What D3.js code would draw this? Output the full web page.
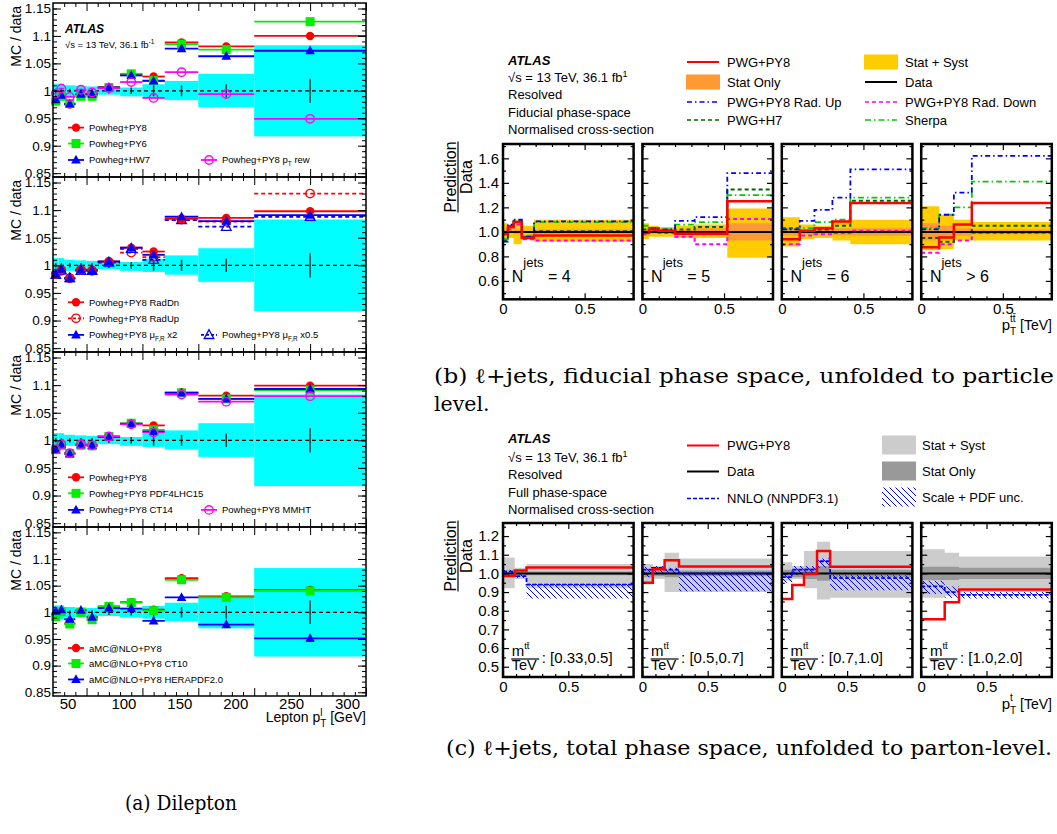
<!DOCTYPE html>
<html><head><meta charset="utf-8">
<script src="https://cdn.jsdelivr.net/npm/d3@7"></script>
<style>body{margin:0;background:#fff}svg{display:block}text{white-space:pre}</style>
</head><body><svg id="c" width="1057" height="834"></svg>
<script>
// ================= DATA =================
// (a) Dilepton – lepton pT, MC / data
const lepEdges   = [20,25,30,40,50,60,80,100,120,150,200,300];
const lepCenters = [22.5,27.5,35,45,55,70,90,110,135,175,250];
const lepBandHi  = [1.013,1.013,1.010,1.009,1.008,1.007,1.006,1.012,1.018,1.031,1.083];
const lepBandLo  = [0.987,0.987,0.990,0.991,0.992,0.993,0.990,0.988,0.983,0.970,0.917];
const lepDataErr = [0.004,0.004,0.004,0.004,0.004,0.005,0.006,0.010,0.010,0.012,0.022];

const a1PY8   = [0.983,0.992,0.975,0.993,0.992,1.007,1.030,1.026,1.088,1.081,1.100];
const a1PY6   = [0.981,0.990,0.977,0.990,0.990,1.006,1.031,1.019,1.085,1.075,1.126];
const a1HW7   = [0.984,0.992,0.976,0.994,0.994,1.006,1.028,1.018,1.077,1.063,1.073];
const a1PtRew = [0.995,1.004,0.989,1.002,0.997,1.005,1.016,0.987,1.034,0.994,0.949];

const a2RadDn = [0.983,0.993,0.976,0.991,0.992,1.007,1.032,1.025,1.084,1.086,1.098];
const a2RadUp = [0.985,0.990,0.977,0.992,0.990,1.006,1.023,1.015,1.083,1.079,1.130];
const a2MuX2  = [0.984,0.993,0.976,0.992,0.991,1.007,1.032,1.019,1.088,1.080,1.091];
const a2MuX05 = [0.983,0.991,0.977,0.990,0.990,1.005,1.030,1.010,1.082,1.070,1.088];

const a3PY8     = [0.983,0.992,0.976,0.992,0.991,1.007,1.030,1.027,1.087,1.081,1.099];
const a3PDF4LHC = [0.983,0.991,0.976,0.991,0.990,1.007,1.031,1.019,1.086,1.075,1.091];
const a3CT14    = [0.983,0.992,0.976,0.992,0.991,1.006,1.030,1.016,1.086,1.075,1.093];
const a3MMHT    = [0.984,0.993,0.977,0.993,0.991,1.007,1.029,1.014,1.083,1.070,1.080];

const a4aMC  = [0.993,1.002,0.979,1.000,0.987,1.011,1.019,1.005,1.064,1.030,1.042];
const a4CT10 = [0.992,1.001,0.978,1.000,0.986,1.011,1.018,1.003,1.061,1.028,1.040];
const a4HERA = [1.002,1.005,0.987,1.004,0.991,1.008,1.007,0.984,1.028,0.977,0.951];

const aYTicks  = [0.85,0.9,0.95,1,1.05,1.1,1.15];
const aYLabels = ["0.85","0.9","0.95","1","1.05","1.1","1.15"];
const aXTicks  = [50,100,150,200,250,300];

// (b) l+jets fiducial, pT(tt) in Njets bins, prediction / data
const bNjets = ["= 4","= 5","= 6","> 6"];
const bEdges = [
  [0,0.03,0.065,0.115,0.19,0.8],
  [0,0.04,0.1,0.2,0.32,0.52,0.8],
  [0,0.11,0.2,0.31,0.42,0.8],
  [0,0.11,0.2,0.31,0.8]
];
const bSystHi = [[1.07,1.05,1.10,1.05,1.10],[1.07,1.05,1.04,1.05,1.06,1.19],[1.12,1.06,1.05,1.09,1.10],[1.21,1.14,1.10,1.08]];
const bSystLo = [[0.93,0.95,0.90,0.95,0.92],[0.94,0.96,0.96,0.95,0.95,0.79],[0.88,0.94,0.95,0.93,0.90],[0.85,0.86,0.93,0.93]];
const bStat   = [[0.02,0.01,0.02,0.01,0.02],[0.02,0.015,0.015,0.02,0.03,0.07],[0.03,0.02,0.02,0.03,0.03],[0.07,0.05,0.03,0.02]];
const bPY8    = [[0.98,1.04,1.08,0.95,0.97],[0.99,1.02,1.01,0.985,0.985,1.25],[0.94,1.01,1.03,1.085,1.235],[0.875,0.955,1.06,1.235]];
const bRadUp  = [[0.92,1.06,1.10,0.96,1.085],[1.0,1.03,1.02,1.09,1.12,1.48],[1.02,1.09,1.18,1.28,1.51],[1.02,1.14,1.32,1.62]];
const bH7     = [[0.93,1.05,1.09,0.96,1.005],[1.02,1.03,1.01,1.02,1.04,1.345],[1.03,1.0,1.02,1.05,1.255],[0.95,0.92,1.0,1.05]];
const bSherpa = [[0.94,1.04,1.08,0.97,1.08],[1.05,1.02,1.02,1.06,1.08,1.30],[1.02,1.03,1.08,1.10,1.28],[1.03,1.14,1.20,1.41]];
const bRadDn  = [[1.0,1.02,1.06,0.94,0.93],[0.98,1.01,0.99,0.96,0.90,1.105],[0.90,0.97,0.98,0.99,1.01],[0.83,0.90,0.93,0.99]];
const bYTicks = [0.6,0.8,1.0,1.2,1.4,1.6];
const bXTicks = [0,0.5];

// (c) l+jets full phase space, pT(t) in m(tt) bins, prediction / data
const cRanges = ["[0.33,0.5]","[0.5,0.7]","[0.7,1.0]","[1.0,2.0]"];
const cEdges = [
  [0,0.09,0.18,1.0],
  [0,0.08,0.17,0.28,1.0],
  [0,0.08,0.17,0.27,0.37,1.0],
  [0,0.18,0.29,1.0]
];
const cSystHi = [[1.085,1.03,1.05],[1.05,1.04,1.11,1.08],[1.06,1.04,1.12,1.17,1.12],[1.13,1.11,1.09]];
const cSystLo = [[0.92,0.97,0.92],[0.94,0.97,0.90,0.90],[0.96,0.97,0.92,0.86,0.87],[0.87,0.88,0.90]];
const cStat   = [[0.015,0.01,0.01],[0.02,0.015,0.02,0.015],[0.02,0.02,0.03,0.04,0.02],[0.035,0.035,0.03]];
const cPY8    = [[0.986,1.015,1.032],[0.95,1.022,1.07,1.037],[0.863,0.938,0.997,1.12,1.036],[0.754,0.845,0.914]];
const cNNLO   = [[1.01,0.985,0.94],[1.02,1.03,1.02,1.0],[0.98,1.02,1.02,1.065,0.975],[0.93,0.90,0.885]];
const cNNLOHi = [[1.02,0.995,0.945],[1.035,1.04,1.03,1.0],[1.0,1.04,1.04,1.08,0.99],[0.96,0.93,0.90]];
const cNNLOLo = [[1.0,0.975,0.865],[0.98,1.0,1.0,0.905],[0.95,0.99,1.0,1.03,0.91],[0.89,0.87,0.865]];
const cYTicks = [0.5,0.6,0.7,0.8,0.9,1.0,1.1,1.2];
const cXTicks = [0,0.5];

// ================= DRAWING =================
const SANS = "'Liberation Sans', Arial, Helvetica, sans-serif";
const SERIF = "'DejaVu Serif', serif";
const svg = d3.select("#c").attr("font-family", SANS);
svg.append("rect").attr("width",1057).attr("height",834).attr("fill","#fff");

function rich(parent, x, y, parts, opts = {}) {
  const g = parent.append("g");
  let cx = 0, lastStart = 0;
  parts.forEach(p => {
    const sx = (p.stack ? lastStart : cx) + (p.dx || 0);
    const t = g.append("text").attr("x", sx).attr("y", p.dy || 0)
      .attr("font-size", p.size).attr("fill", "#000").style("white-space", "pre").text(p.t);
    if (p.bold) t.attr("font-weight", "bold");
    if (p.italic) t.attr("font-style", "italic");
    const w = t.node().getComputedTextLength();
    if (!p.stack) lastStart = sx;
    cx = Math.max(cx, sx + w);
  });
  let ox = 0;
  if (opts.anchor === "end") ox = -cx; else if (opts.anchor === "middle") ox = -cx / 2;
  g.attr("transform", `translate(${x},${y})${opts.rotate ? ` rotate(${opts.rotate})` : ""}`);
  g.selectAll("text").attr("x", function () { return +d3.select(this).attr("x") + ox; });
  return g;
}

function axesFor(g, x, y, o) {
  const [x0, x1] = x.range(), [yb, yt] = y.range();
  const mk = (gen, tx, ty, vals, size, fmt, fs) => {
    const a = g.append("g").attr("transform", `translate(${tx},${ty})`)
      .call(gen.tickValues(vals).tickSizeInner(-size).tickSizeOuter(0).tickPadding(o.pad).tickFormat(fmt || (() => "")));
    a.select(".domain").remove();
    a.attr("font-family", SANS).attr("font-size", fs || 12);
    a.selectAll("line").attr("stroke", "#000").attr("stroke-width", o.tw);
    a.selectAll("text").attr("fill", "#000");
    return a;
  };
  mk(d3.axisLeft(y), x0, 0, o.yMinor, o.minor);
  mk(d3.axisRight(y), x1, 0, o.yMinor, o.minor);
  mk(d3.axisTop(x), 0, yt, o.xMinor, o.minor);
  mk(d3.axisBottom(x), 0, yb, o.xMinor, o.minor);
  const yl = mk(d3.axisLeft(y), x0, 0, o.yMajor, o.major, o.yFmt, o.yfs);
  mk(d3.axisRight(y), x1, 0, o.yMajor, o.major);
  mk(d3.axisTop(x), 0, yt, o.xMajor, o.major);
  const xl = mk(d3.axisBottom(x), 0, yb, o.xMajor, o.major, o.xFmt, o.xfs);
  g.append("rect").attr("x", x0).attr("y", yt).attr("width", x1 - x0).attr("height", yb - yt)
    .attr("fill", "none").attr("stroke", "#000").attr("stroke-width", o.fw);
  return { yl, xl };
}

function marker(g, type, x, y, color) {
  if (type === "circle") g.append("circle").attr("cx", x).attr("cy", y).attr("r", 4.2).attr("fill", color);
  else if (type === "ocircle") g.append("circle").attr("cx", x).attr("cy", y).attr("r", 4.2).attr("fill", "none").attr("stroke", color).attr("stroke-width", 1.4);
  else if (type === "square") g.append("rect").attr("x", x - 4.5).attr("y", y - 4.5).attr("width", 9).attr("height", 9).attr("fill", color);
  else if (type === "tri") g.append("path").attr("d", `M${x},${y - 5.2}L${x + 4.8},${y + 3.6}L${x - 4.8},${y + 3.6}Z`).attr("fill", color);
  else if (type === "otri") g.append("path").attr("d", `M${x},${y - 5.2}L${x + 4.8},${y + 3.6}L${x - 4.8},${y + 3.6}Z`).attr("fill", "none").attr("stroke", color).attr("stroke-width", 1.3);
}

// ---------- (a) ----------
const ax = d3.scaleLinear().domain([20, 300]).range([53, 366]);
const aPanels = [
  { top: 3, bot: 177, series: [
    { v: a1PY8, c: "#ff0000", m: "circle", n: "Powheg+PY8", row: 0 },
    { v: a1PY6, c: "#00ee00", m: "square", n: "Powheg+PY6", row: 1 },
    { v: a1HW7, c: "#0000ff", m: "tri", n: "Powheg+HW7", row: 2 },
    { v: a1PtRew, c: "#ff00ff", m: "ocircle", n: ["Powheg+PY8 p", "T", " rew"], col: 2, row: 2 }] },
  { top: 177, bot: 352, series: [
    { v: a2RadUp, c: "#ff0000", m: "ocircle", dash: "4,3", n: "Powheg+PY8 RadUp", row: 1 },
    { v: a2MuX05, c: "#0000ff", m: "otri", dash: "4,3", n: ["Powheg+PY8 μ", "F,R", " x0.5"], col: 2, row: 2 },
    { v: a2RadDn, c: "#ff0000", m: "circle", n: "Powheg+PY8 RadDn", row: 0 },
    { v: a2MuX2, c: "#0000ff", m: "tri", n: ["Powheg+PY8 μ", "F,R", " x2"], row: 2 }] },
  { top: 352, bot: 527, series: [
    { v: a3PY8, c: "#ff0000", m: "circle", n: "Powheg+PY8", row: 0 },
    { v: a3PDF4LHC, c: "#00ee00", m: "square", n: "Powheg+PY8 PDF4LHC15", row: 1 },
    { v: a3CT14, c: "#0000ff", m: "tri", n: "Powheg+PY8 CT14", row: 2 },
    { v: a3MMHT, c: "#ff00ff", m: "ocircle", n: "Powheg+PY8 MMHT", col: 2, row: 2 }] },
  { top: 527, bot: 696, series: [
    { v: a4aMC, c: "#ff0000", m: "circle", n: "aMC@NLO+PY8", row: 0 },
    { v: a4CT10, c: "#00ee00", m: "square", n: "aMC@NLO+PY8 CT10", row: 1 },
    { v: a4HERA, c: "#0000ff", m: "tri", n: "aMC@NLO+PY8 HERAPDF2.0", row: 2 }] }
];
const legRows = [0.933, 0.904, 0.874];
aPanels.forEach((P, pi) => {
  const ay = d3.scaleLinear().domain([0.843, 1.16]).range([P.bot, P.top]);
  const g = svg.append("g");
  lepCenters.forEach((c, i) => {
    g.append("rect").attr("x", ax(lepEdges[i])).attr("width", ax(lepEdges[i + 1]) - ax(lepEdges[i]))
      .attr("y", ay(lepBandHi[i])).attr("height", ay(lepBandLo[i]) - ay(lepBandHi[i])).attr("fill", "#00ffff");
  });
  g.append("line").attr("x1", ax(20)).attr("x2", ax(300)).attr("y1", ay(1)).attr("y2", ay(1))
    .attr("stroke", "#000").attr("stroke-width", 1.2).attr("stroke-dasharray", "4,3");
  lepCenters.forEach((c, i) => {
    g.append("line").attr("x1", ax(c)).attr("x2", ax(c)).attr("y1", ay(1 + lepDataErr[i])).attr("y2", ay(1 - lepDataErr[i]))
      .attr("stroke", "#000").attr("stroke-opacity", 0.75).attr("stroke-width", 1.5);
  });
  P.series.forEach(s => {
    s.v.forEach((v, i) => {
      g.append("line").attr("x1", ax(lepEdges[i])).attr("x2", ax(lepEdges[i + 1])).attr("y1", ay(v)).attr("y2", ay(v))
        .attr("stroke", s.c).attr("stroke-width", 1.8).attr("stroke-dasharray", s.dash || null);
    });
  });
  P.series.forEach(s => s.v.forEach((v, i) => marker(g, s.m, ax(lepCenters[i]), ay(v), s.c)));
  P.series.forEach(s => {
    const yy = ay(legRows[s.row]);
    const mx = s.col === 2 ? 209 : 76;
    g.append("line").attr("x1", mx - 8).attr("x2", mx + 8).attr("y1", yy).attr("y2", yy)
      .attr("stroke", s.c).attr("stroke-width", 1.8).attr("stroke-dasharray", s.dash ? "3,2" : null);
    marker(g, s.m, mx, yy, s.c);
    const parts = Array.isArray(s.n)
      ? [{ t: s.n[0], size: 9.5 }, { t: s.n[1], size: 6.5, dy: 3 }, { t: s.n[2], size: 9.5 }]
      : [{ t: s.n, size: 9.5 }];
    rich(g, mx + 13, yy + 3.5, parts);
  });
  const isLast = pi === aPanels.length - 1;
  const r = axesFor(g, ax, ay, {
    yMajor: aYTicks, yMinor: d3.range(0.85, 1.155, 0.01).map(v => +v.toFixed(2)),
    xMajor: aXTicks, xMinor: d3.range(30, 300, 10).filter(v => v % 50 !== 0),
    major: 8, minor: 4, pad: 2, tw: 1, fw: 1.5,
    yFmt: (d, i) => aYLabels[i], yfs: 13.5,
    xFmt: isLast ? (d => String(d)) : null, xfs: 15
  });
  if (isLast) r.xl.selectAll("text").attr("dx", -19);
  rich(svg, 21, P.top + 3, [{ t: "MC / data", size: 14 }], { anchor: "end", rotate: -90 });
});
rich(svg, 65, 33, [{ t: "ATLAS", size: 12, bold: true, italic: true }]);
rich(svg, 65, 48, [{ t: "√s = 13 TeV, 36.1 fb", size: 9.5 }, { t: "-1", size: 6.5, dy: -4 }]);
rich(svg, 366, 722, [{ t: "Lepton p", size: 14 }, { t: "T", size: 10, dy: 5 }, { t: "l", size: 10, dy: -6, stack: true }, { t: " [GeV]", size: 14 }], { anchor: "end" });

// ---------- (b) and (c) common ----------
const pLefts = [503, 642.4, 781.8, 921.2], pW = 130.6;
const stepPts = (edges, vals) => edges.map((e, k) => [e, vals[Math.min(k, vals.length - 1)]]);
function stepLine(g, x, y, edges, vals, color, width, dash) {
  g.append("path").attr("d", d3.line().x(d => x(d[0])).y(d => y(d[1])).curve(d3.curveStepAfter)(stepPts(edges, vals)))
    .attr("fill", "none").attr("stroke", color).attr("stroke-width", width).attr("stroke-dasharray", dash || null);
}
function stepArea(g, x, y, edges, lo, hi, fill) {
  const pts = edges.map((e, k) => [e, lo[Math.min(k, lo.length - 1)], hi[Math.min(k, hi.length - 1)]]);
  return g.append("path").attr("d", d3.area().x(d => x(d[0])).y0(d => y(d[1])).y1(d => y(d[2])).curve(d3.curveStepAfter)(pts))
    .attr("fill", fill);
}
function fracLabel(cx, cy) {
  const g = svg.append("g").attr("transform", `translate(${cx},${cy}) rotate(-90)`);
  const t1 = g.append("text").attr("x", 0).attr("y", 0).attr("text-anchor", "middle").attr("font-size", 16).text("Prediction");
  const w = t1.node().getComputedTextLength();
  g.append("line").attr("x1", -w / 2).attr("x2", w / 2).attr("y1", 2).attr("y2", 2).attr("stroke", "#000").attr("stroke-width", 1.2);
  g.append("text").attr("x", 0).attr("y", 16).attr("text-anchor", "middle").attr("font-size", 16).text("Data");
}

// ---------- (b) ----------
bEdges.forEach((edges, i) => {
  const x = d3.scaleLinear().domain([0, 0.8]).range([pLefts[i], pLefts[i] + pW]);
  const y = d3.scaleLinear().domain([0.45, 1.717]).range([299.3, 144]);
  const g = svg.append("g");
  stepArea(g, x, y, edges, bSystLo[i], bSystHi[i], "#ffcc00");
  stepArea(g, x, y, edges, bStat[i].map(s => 1 - s), bStat[i].map(s => 1 + s), "#ff9933");
  stepLine(g, x, y, edges, bRadDn[i], "#ff00ff", 2, "4,3");
  stepLine(g, x, y, edges, bH7[i], "#006600", 2, "4,3");
  stepLine(g, x, y, edges, bSherpa[i], "#00cc00", 1.8, "6,3,1.5,3");
  stepLine(g, x, y, edges, bRadUp[i], "#0000ff", 1.8, "5,3,1.5,3");
  g.append("line").attr("x1", x(0)).attr("x2", x(0.8)).attr("y1", y(1)).attr("y2", y(1)).attr("stroke", "#000").attr("stroke-width", 2);
  stepLine(g, x, y, edges, bPY8[i], "#ff0000", 2.5);
  axesFor(g, x, y, {
    yMajor: bYTicks, yMinor: [0.5, 0.7, 0.9, 1.1, 1.3, 1.5, 1.7],
    xMajor: bXTicks, xMinor: d3.range(0.1, 0.8, 0.1).filter(v => Math.abs(v - 0.5) > 1e-6),
    major: 6, minor: 3, pad: 4, tw: 1.2, fw: 2.5,
    yFmt: i === 0 ? d3.format(".1f") : null, yfs: 15,
    xFmt: d => (d === 0 ? "0" : "0.5"), xfs: 15
  });
  rich(svg, pLefts[i] + 8.7, 281.7, [{ t: "N", size: 16 }, { t: "jets", size: 13, dy: -15 }, { t: " " + bNjets[i], size: 16 }]);
});
fracLabel(456, 177);
rich(svg, 1052, 330, [{ t: "p", size: 15 }, { t: "T", size: 10, dy: 5 }, { t: "tt\u0304", size: 10, dy: -8, stack: true }, { t: " [TeV]", size: 14 }], { anchor: "end" });

const bHeader = ["Resolved", "Fiducial phase-space", "Normalised cross-section"];
rich(svg, 508, 65, [{ t: "ATLAS", size: 13, bold: true, italic: true }]);
rich(svg, 508, 82, [{ t: "√s = 13 TeV, 36.1 fb", size: 13 }, { t: "1", size: 9, dy: -5 }]);
bHeader.forEach((t, k) => rich(svg, 508, 99.3 + k * 17.5, [{ t, size: 13 }]));
const bLeg = [
  { x: 687, y: 62, kind: "line", c: "#ff0000", w: 2, n: "PWG+PY8" },
  { x: 687, y: 82, kind: "box", c: "#ff9933", n: "Stat Only" },
  { x: 687, y: 102, kind: "line", c: "#0000ff", w: 1.5, dash: "5,3,1.5,3", n: "PWG+PY8 Rad. Up" },
  { x: 687, y: 120, kind: "line", c: "#006600", w: 1.5, dash: "4,3", n: "PWG+H7" },
  { x: 865, y: 62, kind: "box", c: "#ffcc00", n: "Stat + Syst" },
  { x: 865, y: 82, kind: "line", c: "#000", w: 2, n: "Data" },
  { x: 865, y: 102, kind: "line", c: "#ff00ff", w: 1.5, dash: "4,3", n: "PWG+PY8 Rad. Down" },
  { x: 865, y: 120, kind: "line", c: "#00cc00", w: 1.5, dash: "6,3,1.5,3", n: "Sherpa" }
];
bLeg.forEach(d => {
  if (d.kind === "box") svg.append("rect").attr("x", d.x - 1).attr("y", d.y - 7.5).attr("width", 34).attr("height", 15).attr("fill", d.c);
  else svg.append("line").attr("x1", d.x).attr("x2", d.x + 32).attr("y1", d.y).attr("y2", d.y).attr("stroke", d.c).attr("stroke-width", d.w).attr("stroke-dasharray", d.dash || null);
  rich(svg, d.x + 40, d.y + 4.5, [{ t: d.n, size: 13 }]);
});

// serif captions, stretched to the reference line widths
const CAP = 20.5;
function caption(x, y, str, target) {
  const t = svg.append("text").attr("x", x).attr("y", y).attr("font-family", SERIF).attr("font-size", CAP).attr("fill", "#000").text(str);
  if (target) t.attr("textLength", target).attr("lengthAdjust", "spacingAndGlyphs");
  return t;
}
caption(434, 383, "(b) ℓ+jets, fiducial phase space, unfolded to particle", 620);
caption(434, 411, "level.");

// ---------- (c) ----------
const defs = svg.append("defs");
const pat = defs.append("pattern").attr("id", "hatch").attr("patternUnits", "userSpaceOnUse").attr("width", 6).attr("height", 6);
pat.append("path").attr("d", "M0,0L6,6M-1,5L1,7M5,-1L7,1").attr("stroke", "#0000ff").attr("stroke-width", 1);
cEdges.forEach((edges, i) => {
  const x = d3.scaleLinear().domain([0, 1.0]).range([pLefts[i], pLefts[i] + pW]);
  const y = d3.scaleLinear().domain([0.445, 1.27]).range([677, 523]);
  const g = svg.append("g");
  stepArea(g, x, y, edges, cSystLo[i], cSystHi[i], "#cccccc");
  stepArea(g, x, y, edges, cStat[i].map(s => 1 - s), cStat[i].map(s => 1 + s), "#999999");
  stepArea(g, x, y, edges, cNNLOLo[i], cNNLOHi[i], "url(#hatch)");
  g.append("line").attr("x1", x(0)).attr("x2", x(1)).attr("y1", y(1)).attr("y2", y(1)).attr("stroke", "#000").attr("stroke-width", 2);
  stepLine(g, x, y, edges, cNNLO[i], "#0000ff", 1.8, "4,2");
  stepLine(g, x, y, edges, cPY8[i], "#ff0000", 2.5);
  axesFor(g, x, y, {
    yMajor: cYTicks, yMinor: [0.45, 0.55, 0.65, 0.75, 0.85, 0.95, 1.05, 1.15, 1.25],
    xMajor: cXTicks, xMinor: d3.range(0.1, 1.0, 0.1).filter(v => Math.abs(v - 0.5) > 1e-6),
    major: 6, minor: 3, pad: 4, tw: 1.2, fw: 2.5,
    yFmt: i === 0 ? d3.format(".1f") : null, yfs: 15,
    xFmt: d => (d === 0 ? "0" : "0.5"), xfs: 15
  });
  const lx = pLefts[i] + 8.7;
  const num = rich(svg, lx, 655.7, [{ t: "m", size: 15 }, { t: "tt\u0304", size: 9.5, dy: -7 }]);
  const nw = Math.max(num.node().getBBox().width, 27);
  svg.append("line").attr("x1", lx - 0.5).attr("x2", lx + nw + 0.5).attr("y1", 659).attr("y2", 659).attr("stroke", "#000").attr("stroke-width", 1.2);
  rich(svg, lx, 669.5, [{ t: "TeV", size: 14.5 }]);
  rich(svg, lx + nw + 3, 662.7, [{ t: ": " + cRanges[i], size: 15 }]);
});
fracLabel(456, 556);
rich(svg, 1052, 709, [{ t: "p", size: 15 }, { t: "T", size: 10, dy: 5 }, { t: "t", size: 10, dy: -8, stack: true }, { t: " [TeV]", size: 14 }], { anchor: "end" });

const cHeader = ["Resolved", "Full phase-space", "Normalised cross-section"];
rich(svg, 508, 443, [{ t: "ATLAS", size: 13, bold: true, italic: true }]);
rich(svg, 508, 461.5, [{ t: "√s = 13 TeV, 36.1 fb", size: 13 }, { t: "1", size: 9, dy: -5 }]);
cHeader.forEach((t, k) => rich(svg, 508, 479.2 + k * 17.3, [{ t, size: 13 }]));
const cLeg = [
  { x: 687, y: 445.5, kind: "line", c: "#ff0000", w: 2, n: "PWG+PY8" },
  { x: 687, y: 471.5, kind: "line", c: "#000", w: 2, n: "Data" },
  { x: 687, y: 498.5, kind: "line", c: "#0000ff", w: 1.5, dash: "4,2", n: "NNLO (NNPDF3.1)" },
  { x: 882, y: 445, kind: "box", c: "#cccccc", n: "Stat + Syst" },
  { x: 882, y: 471, kind: "box", c: "#999999", n: "Stat Only" },
  { x: 882, y: 497, kind: "box", c: "url(#hatch)", n: "Scale + PDF unc." }
];
cLeg.forEach(d => {
  if (d.kind === "box") svg.append("rect").attr("x", d.x).attr("y", d.y - 9.5).attr("width", 34).attr("height", 19).attr("fill", d.c);
  else svg.append("line").attr("x1", d.x).attr("x2", d.x + 32).attr("y1", d.y).attr("y2", d.y).attr("stroke", d.c).attr("stroke-width", d.w).attr("stroke-dasharray", d.dash || null);
  rich(svg, d.x + 40, d.y + 4.5, [{ t: d.n, size: 13 }]);
});

caption(446, 755, "(c) ℓ+jets, total phase space, unfolded to parton-level.", 606);
caption(125, 810, "(a) Dilepton", 112);
</script></body></html>
